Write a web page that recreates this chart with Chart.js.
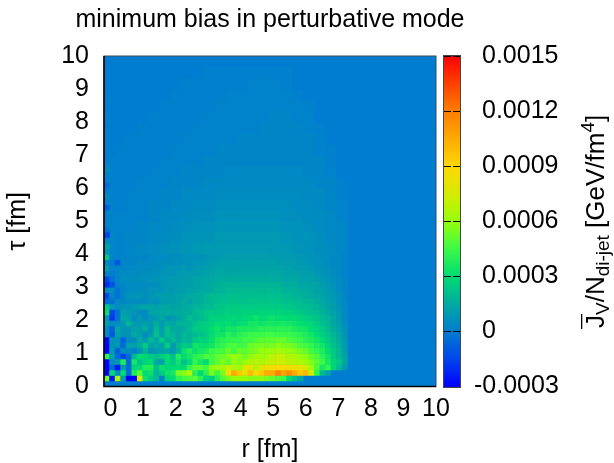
<!DOCTYPE html>
<html>
<head>
<meta charset="utf-8">
<style>html,body{margin:0;padding:0;background:#fff}canvas{display:block}</style>
<script src="https://cdn.jsdelivr.net/npm/chart.js@4"></script>
</head>
<body>
<canvas id="myChart" width="614" height="463"></canvas>
<script>
// values are in units of 1e-5 GeV/fm^4
const rTicks = [0, 1, 2, 3, 4, 5, 6, 7, 8, 9, 10];
const tauTicks = [0, 1, 2, 3, 4, 5, 6, 7, 8, 9, 10];
const colorTicks = [-0.0003, 0, 0.0003, 0.0006, 0.0009, 0.0012, 0.0015];

// rows of 1/6 fm height in tau, starting at tau = 1/6
const fineRows = [
  [55,-25,65,10,-30,-30,75,33,25,20,3,28,30,42,46,48,50,40,28,25,38,48,55,60,60,60,58,58,58,55,52,48,45,30,22,15],
  [-30,30,5,30,-5,38,50,30,32,18,25,33,35,55,58,65,40,30,40,55,45,55,85,105,95,80,100,85,95,105,105,118,108,115,105,95,100,72,42,20,12],
  [-30,-5,-25,10,-5,28,30,38,38,22,32,28,30,30,30,42,50,50,45,58,62,62,72,66,62,76,82,66,80,84,86,88,86,86,84,80,74,62,48,36,42,28,20,10],
  [-30,5,10,38,-5,35,22,28,30,15,12,30,25,33,22,30,42,35,30,45,50,56,50,60,56,60,66,68,64,70,70,72,72,68,66,66,62,56,50,45,36,28,24,14],
  [42,12,-5,-15,-5,20,30,28,25,22,25,30,22,38,30,35,40,42,48,46,50,52,56,60,58,54,58,64,62,64,68,72,70,66,66,60,58,52,48,40,34,25,20,13],
  [-30,10,-8,5,5,0,8,18,8,10,12,13,10,18,32,38,32,36,38,44,46,46,52,46,52,50,54,55,60,60,62,64,62,60,58,55,52,46,42,38,31,24,20,11],
  [-30,8,8,-5,12,12,15,25,12,15,12,26,10,20,25,23,34,32,32,34,40,42,46,48,45,46,52,54,55,54,55,58,55,55,52,48,46,42,38,34,28,22,18,10],
  [-30,8,8,-8,5,5,15,10,20,13,25,16,20,15,20,18,25,28,27,32,38,40,42,42,42,46,45,48,50,50,50,52,52,48,46,44,40,38,34,30,25,20,16,9],
  [5,-10,12,8,8,15,12,5,10,22,12,22,18,14,20,18,20,22,25,30,34,34,40,36,40,42,44,44,44,46,45,44,44,44,42,40,38,34,30,26,23,18,14,8],
  [5,-8,14,8,8,12,12,16,8,20,12,22,16,14,16,20,25,25,27,30,34,31,35,34,37,37,37,38,40,40,40,40,40,40,37,35,34,30,28,25,21,16,13,7],
  [12,5,5,10,18,10,10,12,10,16,10,16,13,18,18,18,22,25,25,27,31,30,31,28,31,31,35,35,33,36,35,35,36,35,33,31,30,28,25,22,19,14,11,6],
  [10,-18,-2,14,12,5,10,5,8,10,14,8,10,13,16,21,18,20,23,27,27,27,28,29,27,29,30,33,30,31,33,31,31,30,30,28,26,25,23,20,18,14,9,5],
  [32,-15,-3,12,10,8,5,5,12,14,14,16,14,15,16,16,20,21,23,25,24,25,27,25,27,27,27,27,28,28,28,28,27,27,25,25,23,21,20,18,14,12,9,5],
  [25,10,5,8,8,10,12,13,13,12,14,14,13,14,15,16,18,18,20,20,23,23,25,25,25,25,25,25,25,25,25,25,25,23,23,21,21,20,18,16,13,11,7,4],
  [-5,-3,5,3,5,5,5,5,8,6,10,11,11,13,14,13,16,16,18,20,21,22,22,23,22,23,23,23,23,23,23,23,22,21,21,20,18,18,16,14,12,10,7,4],
  [-15,3,-3,3,8,8,8,6,8,10,11,11,11,13,13,14,16,16,18,20,20,20,21,21,21,21,21,21,21,21,21,21,20,20,18,18,16,16,14,13,11,9,6,3],
  [6,5,-3,3,5,5,6,6,8,8,8,10,10,11,11,13,13,14,14,16,18,18,20,20,20,20,20,20,20,20,20,20,18,18,18,16,16,14,13,12,10,8,5,3],
  [-20,-12,2,3,5,5,5,5,6,6,8,10,10,10,11,11,13,13,14,16,16,18,18,18,18,18,18,18,18,18,18,18,16,16,16,14,14,13,13,11,9,7,5,3],
  [-15,-3,2,6,6,6,6,6,8,8,8,10,10,10,11,11,13,13,14,14,16,16,16,16,16,16,16,16,16,16,16,16,14,14,14,13,12,12,11,9,8,6,5,3],
  [3,0,3,5,5,4,5,6,6,6,8,8,8,10,10,10,11,11,13,13,14,14,14,14,14,14,14,14,14,14,14,14,13,13,13,12,11,11,9,8,7,5,4,2],
  [12,2,3,3,4,4,5,5,5,6,6,8,8,8,9,8,9,11,11,12,13,13,13,13,13,13,13,13,13,13,13,13,12,12,11,11,10,9,8,7,6,5,4,2],
  [4,0,-10,3,3,3,4,4,4,5,6,6,6,7,7,7,8,8,9,11,11,12,12,12,12,12,12,12,12,12,12,11,11,11,10,10,9,8,7,7,5,4,4,2],
  [25,2,2,2,3,3,3,3,4,5,5,5,6,6,7,7,7,7,8,9,9,11,11,11,11,11,11,11,11,11,11,11,10,10,9,9,8,7,7,6,5,4,4,2]
];

// smoother upper part: blocks two cells wide and 1/3 fm high, starting at tau = 4
const coarseRows = [
  [3,2,3,4,5,6,7,8,9,10,10,10,10,10,10,9,9,8,7,6,5,3],
  [3,2,3,3,4,5,6,7,8,8,9,9,9,9,9,9,8,7,7,6,4,3],
  [2,2,2,3,4,4,5,6,7,7,8,8,8,8,8,8,7,7,6,5,4,3],
  [2,2,2,2,3,4,4,5,6,6,7,7,7,7,7,7,6,6,5,5,4,2],
  [2,1,2,2,3,3,4,4,5,5,6,6,6,6,6,6,6,5,5,4,3,2],
  [1,1,2,2,2,3,3,4,4,4,5,5,5,5,5,5,5,5,4,4,3,1],
  [1,1,1,2,2,2,3,3,3,4,4,4,4,4,4,4,4,4,4,3,3,1],
  [1,1,1,1,2,2,2,3,3,3,3,4,4,4,4,4,4,4,3,3,2,0],
  [1,1,1,1,1,2,2,2,2,3,3,3,3,3,3,3,3,3,3,3,1,0],
  [0,1,1,1,1,1,2,2,2,2,3,3,3,3,3,3,3,3,3,2,1,0],
  [0,0,1,1,1,1,1,2,2,2,2,2,3,3,3,3,3,3,3,2,0,0],
  [0,0,0,1,1,1,1,1,2,2,2,2,2,2,3,3,3,3,2,1,0,0],
  [0,0,0,0,1,1,1,1,1,2,2,2,2,2,2,3,3,2,2,0,0,0],
  [0,0,0,0,0,1,1,1,1,1,2,2,2,2,2,2,2,2,1,0,0,0],
  [0,0,0,0,0,0,1,1,1,1,1,2,2,2,2,2,2,1,0,0,0,0],
  [0,0,0,0,0,0,0,1,1,1,1,1,1,2,2,2,1,0,0,0,0,0],
  [0,0,0,0,0,0,0,0,0,1,1,1,1,1,1,1,1,0,0,0,0,0]
];

// first column above tau = 4 is noisier than the blocks next to it
const edgeColumn = [8,12,3,-15,-3,2,2,2,-8,1,5,1,-5,1,2,5,2,1,1,1,1,1,1,0,1,1,0,0,1,0];

// palette of the colour bar
const paletteValues = [-30,-15,0,15,30,45,60,75,90,105,120,135,150];
const paletteColors = [[0,0,255],[0,70,235],[0,125,208],[0,170,160],[0,220,115],[60,250,70],[150,255,10],[215,235,0],[255,215,0],[255,170,0],[255,125,0],[255,65,0],[255,0,0]];

function colorFor(v) {
  let i = 0;
  while (i < paletteValues.length - 2 && v > paletteValues[i + 1]) i++;
  let t = (v - paletteValues[i]) / (paletteValues[i + 1] - paletteValues[i]);
  t = Math.max(0, Math.min(1, t));
  const a = paletteColors[i], b = paletteColors[i + 1];
  return 'rgb(' + a.map((c, k) => Math.round(c + (b[k] - c) * t)).join(',') + ')';
}

// the r axis starts a little below zero, 60 cells fill it
const rStart = -0.2, rStep = 0.17, tauStep = 1 / 6;
const cells = [];
fineRows.forEach((row, j) => row.forEach((v, i) => {
  cells.push({x: rStart + (i + 0.5) * rStep, y: (j + 1.5) * tauStep, v: v, span: rStep});
}));
coarseRows.forEach((row, j) => row.forEach((v, i) => {
  cells.push({x: rStart + (i + 0.5) * 2 * rStep, y: 4 + (j + 0.5) * 2 * tauStep, v: v, span: 2 * rStep});
}));
edgeColumn.forEach((v, j) => {
  cells.push({x: rStart + 0.5 * rStep, y: 4 + (j + 0.5) * tauStep, v: v, span: rStep});
});

const fontName = '"Liberation Sans", Arial, sans-serif';

const heatPlugin = {
  id: 'heat',
  afterLayout(chart) {
    // title is wider than the map, give it room or it gets squeezed
    chart.titleBlock.left -= 50;
    chart.titleBlock.right += 50;
  },
  beforeDatasetsDraw(chart) {
    const a = chart.chartArea, c = chart.ctx;
    c.save();
    c.fillStyle = colorFor(0);
    c.fillRect(a.left, a.top, a.right - a.left, a.bottom - a.top);
    c.restore();
  },
  afterDraw(chart) {
    const a = chart.chartArea, c = chart.ctx, s = chart.scales.y2;
    c.save();
    // frame of the map
    c.strokeStyle = '#3a4a5a';
    c.lineWidth = 1;
    c.strokeRect(a.left, a.top, a.right - a.left, a.bottom - a.top);
    c.strokeStyle = '#000';
    c.lineWidth = 1.5;
    c.beginPath();
    c.moveTo(a.left, a.top);
    c.lineTo(a.left, a.bottom);
    c.lineTo(a.right, a.bottom);
    c.stroke();

    // colour bar
    const barL = 444, barR = 460;
    const top = Math.round(s.getPixelForValue(0.0015)), bot = Math.round(s.getPixelForValue(-0.0003));
    for (let y = top; y < bot; y++) {
      c.fillStyle = colorFor(s.getValueForPixel(y + 0.5) * 1e5);
      c.fillRect(barL, y, barR - barL, 1);
    }
    c.strokeStyle = '#000';
    c.lineWidth = 1;
    colorTicks.forEach(v => {
      const y = Math.round(s.getPixelForValue(v)) + 0.5;
      c.beginPath();
      c.moveTo(barL, y); c.lineTo(barL + 7, y);
      c.moveTo(barR - 7, y); c.lineTo(barR, y);
      c.stroke();
    });
    c.strokeStyle = '#444';
    c.strokeRect(barL - 0.5, top - 0.5, barR - barL + 1, bot - top + 1);

    // lowest label sits further left than the others in the original
    c.fillStyle = '#000';
    c.font = '25px ' + fontName;
    c.textBaseline = 'middle';
    c.textAlign = 'left';
    c.fillText('-0.0003', 474, s.getPixelForValue(-0.0003));

    // colour bar title with sub and superscripts
    c.translate(596, 328);
    c.rotate(-Math.PI / 2);
    c.textBaseline = 'alphabetic';
    const parts = [
      ['J', 26, 0], ['V', 19, 5], ['/N', 26, 0], ['di-jet', 19, 5],
      [' [GeV/fm', 26, 0], ['4', 19, -10], [']', 26, 0]
    ];
    let x = 0;
    parts.forEach(p => {
      c.font = p[1] + 'px ' + fontName;
      c.fillText(p[0], x, 8 + p[2]);
      x += c.measureText(p[0]).width;
    });
    c.fillRect(-1, -15, 15, 1.3);
    c.restore();
  }
};

new Chart(document.getElementById('myChart'), {
  type: 'scatter',
  data: {
    datasets: [{
      data: cells,
      pointStyle: 'rect',
      borderWidth: 0,
      pointBorderWidth: 0,
      backgroundColor: ctx => colorFor(ctx.raw ? ctx.raw.v : 0),
      pointRadius: ctx => {
        if (!ctx.raw) return 0;
        const sx = ctx.chart.scales.x;
        const w = Math.abs(sx.getPixelForValue(ctx.raw.span) - sx.getPixelForValue(0));
        return (w / 2 + 0.25) * Math.SQRT2;
      }
    }]
  },
  options: {
    responsive: false,
    animation: false,
    events: [],
    layout: {padding: 0},
    plugins: {
      legend: {display: false},
      tooltip: {enabled: false},
      title: {
        display: true,
        text: 'minimum bias in perturbative mode',
        align: 'center',
        fullSize: false,
        color: '#000',
        font: {family: fontName, size: 25, weight: 'normal', lineHeight: 1.2},
        padding: {top: 5, bottom: 21}
      }
    },
    scales: {
      x: {
        type: 'linear',
        min: rStart,
        max: 10,
        grid: {display: false},
        border: {display: false},
        afterBuildTicks: s => { s.ticks = rTicks.map(v => ({value: v})); },
        afterFit: s => { s.height = 76.5; },
        ticks: {color: '#000', font: {family: fontName, size: 25}, padding: 0, maxRotation: 0, autoSkip: false},
        title: {display: true, text: 'r [fm]', color: '#000', font: {family: fontName, size: 25, lineHeight: 1}, padding: {top: 0, bottom: 0}}
      },
      y: {
        type: 'linear',
        position: 'left',
        min: 0,
        max: 10,
        grid: {display: false},
        border: {display: false},
        afterBuildTicks: s => { s.ticks = tauTicks.map(v => ({value: v})); },
        afterFit: s => { s.width = 104; },
        ticks: {color: '#000', font: {family: fontName, size: 25}, padding: 7, autoSkip: false},
        title: {display: true, text: 'τ [fm]', color: '#000', font: {family: fontName, size: 25}, padding: {top: 3, bottom: 0}}
      },
      y2: {
        type: 'linear',
        position: 'right',
        min: -0.0003,
        max: 0.0015,
        grid: {display: false},
        border: {display: false},
        afterBuildTicks: s => { s.ticks = colorTicks.map(v => ({value: v})); },
        afterFit: s => { s.width = 178; },
        ticks: {
          color: '#000',
          font: {family: fontName, size: 25},
          padding: 38,
          crossAlign: 'near',
          autoSkip: false,
          callback: v => (v === 0 ? '0' : (v < 0 ? '' : v.toFixed(4)))
        }
      }
    }
  },
  plugins: [heatPlugin]
});
</script>
</body>
</html>
